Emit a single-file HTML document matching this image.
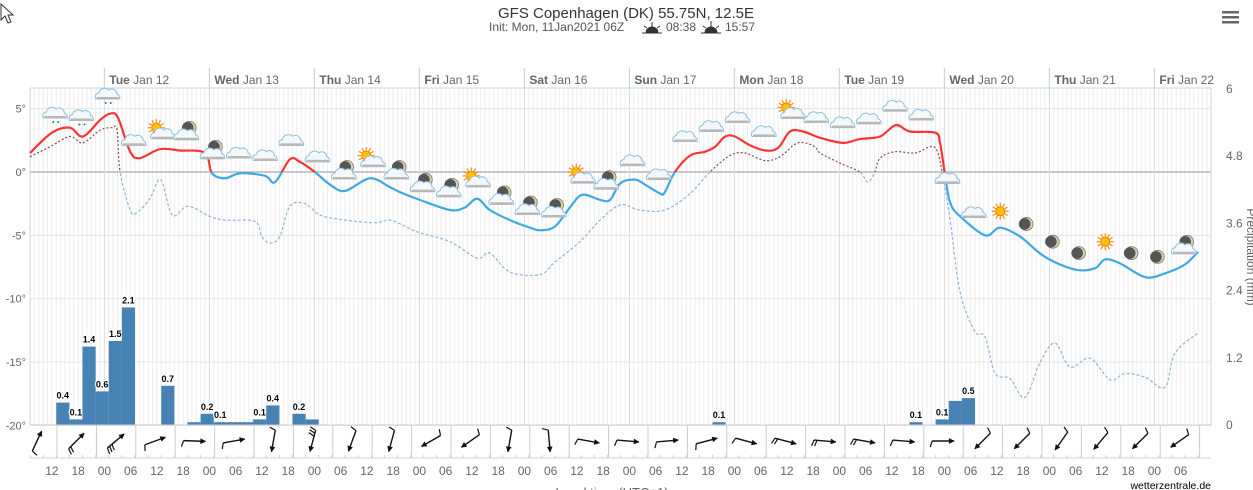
<!DOCTYPE html>
<html><head><meta charset="utf-8"><style>
html,body{margin:0;padding:0;background:#fff;}
svg{display:block;font-family:"Liberation Sans",sans-serif;}
</style></head><body>
<svg id="chart" width="1253" height="490" viewBox="0 0 1253 490" xmlns="http://www.w3.org/2000/svg">
<defs>
<clipPath id="above"><rect x="0" y="0" width="1253" height="172"/></clipPath>
<clipPath id="below"><rect x="0" y="172" width="1253" height="320"/></clipPath>
</defs>
<polygon points="1,4 1,20 5,16 8,23 11,22 8,15 13,15" fill="#fff" stroke="#333" stroke-width="1"/>
<text x="626" y="18" text-anchor="middle" font-size="15" fill="#333">GFS Copenhagen (DK) 55.75N, 12.5E</text>
<g font-size="12" fill="#555">
<text x="489" y="31">Init: Mon, 11Jan2021 06Z</text>
<g stroke="#333" fill="#333"><path d="M646,33 a6,6 0 0 1 12,0z"/><line x1="642" y1="33" x2="662" y2="33"/><line x1="652" y1="22" x2="652" y2="27"/><line x1="644" y1="26" x2="647" y2="28"/><line x1="660" y1="26" x2="657" y2="28"/></g>
<text x="666" y="31">08:38</text>
<g stroke="#333" fill="#333"><path d="M705,33 a6,6 0 0 1 12,0z"/><line x1="701" y1="33" x2="721" y2="33"/><line x1="711" y1="21" x2="711" y2="27"/><line x1="703" y1="26" x2="706" y2="28"/><line x1="719" y1="26" x2="716" y2="28"/></g>
<text x="725" y="31">15:57</text>
</g>
<g fill="#666"><rect x="1222" y="11" width="17" height="2.5"/><rect x="1222" y="16" width="17" height="2.5"/><rect x="1222" y="21" width="17" height="2.5"/></g>
<g id="grid"></g>
<g id="bars"></g>
<g id="lines"></g>
<g id="icons"></g>
<g id="wind"></g>
<g id="axes"></g>
<text x="612" y="497" text-anchor="middle" font-size="13" fill="#666">Local time (UTC+1)</text>
<text x="1211" y="489" text-anchor="end" font-size="10.5" fill="#000">wetterzentrale.de</text>
<text transform="translate(1247,257) rotate(90)" text-anchor="middle" font-size="12" fill="#666">Precipitation (mm)</text>
</svg>
<script>
// ---- data ----
const dayLabels = ["Tue","Wed","Thu","Fri","Sat","Sun","Mon","Tue","Wed","Thu","Fri"];
const dayDates = ["Jan 12","Jan 13","Jan 14","Jan 15","Jan 16","Jan 17","Jan 18","Jan 19","Jan 20","Jan 21","Jan 22"];
const tempTicks = [5,0,-5,-10,-15,-20];
const precipTicks = [6,4.8,3.6,2.4,1.2,0];
const hourLabels = ["12","18","00","06"];
const tempHours = [0,5,9.1,12.1,16,18.3,20.1,22.9,25.1,29.7,34.3,40,41.6,44.6,48,53.7,56,59.4,61.7,65.1,68.6,72,77.7,82.3,84.6,89.1,96,99.4,102.2,105.1,109.7,114.3,116.6,120,123.4,126.2,130.3,132.6,134.9,138.3,140.6,144,145.1,147.4,150.9,154.3,156.6,158.9,161.1,164.6,168,171,173.7,176.7,180.6,185.8,189.7,194.3,197.9,201.1,206.9,208,209.1,210.3,212.6,218.3,221.7,226.3,232,238.9,243.4,245.7,249.1,254.9,259.4,264,267];
const tempValues = [1.5,3.1,3.5,2.8,4.1,4.6,4.3,1.6,1.1,1.8,1.7,1.5,-0.1,-0.5,-0.1,-0.3,-0.8,1.0,0.8,0,-1.0,-1.5,-0.5,-1.2,-1.6,-2.2,-3.0,-2.8,-2.1,-3.0,-3.8,-4.4,-4.6,-4.3,-2.8,-1.8,-2.2,-2.2,-0.9,-0.6,-1.0,-1.7,-1.6,0,1.3,1.6,2.0,2.8,2.8,2.1,1.7,1.9,3.2,3.2,2.7,2.3,2.6,2.8,3.7,3.2,3.1,2.3,-0.1,-2.4,-3.5,-5.0,-4.4,-5.1,-6.7,-7.7,-7.6,-6.9,-7.2,-8.3,-8.0,-7.3,-6.3];
const dewHours = [0,4.6,9.1,12.1,16,18.7,19.9,20.6,22.9,24.5,27.4,29.9,32.5,36.1,41.1,44.6,51.4,53,54.9,57.1,59.4,62.9,66.3,72,78.9,82.3,86.4,89.1,96,102.2,105.1,109.7,116.6,120,125.7,130.3,134.9,139.4,145.1,150.9,155.4,160,163.4,168,171.4,174.9,177.1,179.4,180.6,185.1,189.7,191.5,193.1,194.3,197.7,202.3,205.7,207.3,208.5,210.3,212.6,216,218.3,220.6,224,227.4,230.9,234.3,237.7,242.3,246.9,250.3,254.9,259.4,261.7,267];
const dewValues = [1.2,2.0,2.8,2.3,3.3,3.5,3.3,0,-3.0,-3.2,-2.1,-0.6,-3.4,-2.7,-3.5,-3.8,-3.9,-5.1,-5.6,-5.1,-2.7,-2.5,-3.4,-3.8,-4.0,-3.8,-4.4,-4.8,-5.5,-6.8,-6.4,-7.9,-8.1,-7.1,-5.5,-3.8,-2.6,-3.0,-3.0,-1.7,0,1.3,1.5,0.9,1.2,2.2,2.3,2.0,1.5,0.7,0,-0.8,0,1.1,1.6,1.5,2.0,1.7,0,-3.8,-9.5,-12.6,-13.0,-15.9,-16.3,-17.8,-15.0,-13.5,-15.4,-14.7,-16.4,-15.9,-16.2,-17.0,-14.3,-12.7];
const precipHours = [6,9,12,15,18,21,30,36,39,42,45,48,51,54,60,63,156,201,207,210,213];
const precipValues = [0.4,0.1,1.4,0.6,1.5,2.1,0.7,0.05,0.2,0.05,0.05,0.05,0.1,0.35,0.2,0.1,0.05,0.05,0.1,0.43,0.48];
const precipLabeled = [1,1,1,1,1,1,1,0,1,1,0,0,1,1,1,0,1,1,1,0,1];
const iconTypes = ["rain","rain","rain","cloud","suncloud","mooncloud","mooncloud","cloud","cloud","cloud","cloud","mooncloud","suncloud","mooncloud","mooncloud","mooncloud","suncloud","mooncloud","mooncloud","mooncloud","suncloud","mooncloud","cloud","cloud","cloud","cloud","cloud","cloud","suncloud","cloud","cloud","cloud","cloud","cloud","cloud","cloud","sun","moon","moon","moon","sun","moon","moon","mooncloud"];
const iconLevels = [4.5,4.3,6.0,2.5,3.1,3.1,1.6,1.5,1.3,2.5,1.2,0,0.9,0,-1.0,-1.4,-0.7,-2.0,-2.8,-3.0,-0.4,-0.8,0.9,-0.2,2.8,3.6,4.3,3.2,4.7,4.3,3.9,4.2,5.2,4.5,-0.5,-3.2,-3.1,-4.1,-5.5,-6.4,-5.5,-6.4,-6.7,-5.9];
const windDirs = [25,45,50,70,92,80,190,195,200,195,240,235,190,175,100,95,85,75,105,105,95,100,95,90,225,225,215,220,225,235];
const windFeathers = [1,2,3,1,1,1,1,3,1,1,1,1,1,1,1,1,1,1,1,2,2,2,1,1,1,1,1,1,1,1];

// ---- scales ----
const X0=30, X1=1211, PX_H=4.375;
const xs = h => X0 + h*PX_H;
const yT = t => 172 - t*12.67;
const yP = p => 425 - p*56;
const NS="http://www.w3.org/2000/svg";
function el(tag, attrs, parent){const e=document.createElementNS(NS,tag);for(const k in attrs)e.setAttribute(k,attrs[k]);parent.appendChild(e);return e;}

// ---- grid ----
const grid=document.getElementById('grid');
for(let h=0; xs(h)<=X1; h++){
  const l=el('line',{x1:xs(h),x2:xs(h),y1:88,y2:425,stroke:'#eeeeee','stroke-width':1},grid);
  
  
}
tempTicks.forEach(t=>{
  const l=el('line',{x1:X0,x2:X1,y1:yT(t),y2:yT(t),stroke:t===0?'#aaaaaa':'#e6e6e6','stroke-width':t===0?1.2:1},grid);
  
  
});
// day header row and day lines
el('line',{x1:X0,x2:X1,y1:88,y2:88,stroke:'#c8d4e2'},grid);
el('line',{x1:X0,x2:X0,y1:88,y2:425,stroke:'#c8d4e2'},grid);
el('line',{x1:X1,x2:X1,y1:88,y2:425,stroke:'#c8d4e2'},grid);
dayLabels.forEach((d,i)=>{
  const x=xs(17+24*i);
  const l=el('line',{x1:x,x2:x,y1:68,y2:425,stroke:'#dcdcdc'},grid);
  
  
  el('line',{x1:x,x2:x,y1:68,y2:88,stroke:'#c8d4e2'},grid);
  const t=el('text',{x:x+5,y:84,'font-size':12,fill:'#666'},grid);
  
  
  const b=el('tspan',{'font-weight':'bold'},t); b.textContent=d;
  const s=el('tspan',{},t); s.textContent=' '+dayDates[i];
});

// ---- precipitation bars ----
const bars=document.getElementById('bars');
precipHours.forEach((h,i)=>{
  const v=precipValues[i];
  const r=el('rect',{x:xs(h),y:yP(v),width:3*PX_H,height:425-yP(v),fill:'#4682b4'},bars);
  
  
  if(precipLabeled[i]){
    const t=el('text',{x:xs(h)+1.5*PX_H,y:yP(v)-4,'text-anchor':'middle','font-size':9,'font-weight':'bold',fill:'#000',stroke:'#fff','stroke-width':2.5,'paint-order':'stroke'},bars);
    
    
    t.textContent=(Math.round(v*10)/10).toFixed(1);
  }
});

// ---- lines ----
function smoothPath(hs,vs){
  const p=hs.map((h,i)=>[xs(h),yT(vs[i])]);
  let d='M'+p[0][0]+','+p[0][1];
  for(let i=0;i<p.length-1;i++){
    const a=p[Math.max(0,i-1)],b=p[i],c=p[i+1],e=p[Math.min(p.length-1,i+2)];
    const c1=[b[0]+(c[0]-a[0])/6,b[1]+(c[1]-a[1])/6];
    const c2=[c[0]-(e[0]-b[0])/6,c[1]-(e[1]-b[1])/6];
    d+=' C'+c1[0].toFixed(1)+','+c1[1].toFixed(1)+' '+c2[0].toFixed(1)+','+c2[1].toFixed(1)+' '+c[0].toFixed(1)+','+c[1].toFixed(1);
  }
  return d;
}
const lines=document.getElementById('lines');
const dd=smoothPath(dewHours,dewValues);
const dewA=el('path',{d:dd,fill:'none',stroke:'#8b4a4a','stroke-width':1.2,'stroke-dasharray':'2,2','clip-path':'url(#above)'},lines);


const dewB=el('path',{d:dd,fill:'none',stroke:'#8fb4dc','stroke-width':1.2,'stroke-dasharray':'3,2','clip-path':'url(#below)'},lines);


const td=smoothPath(tempHours,tempValues);
const tA=el('path',{d:td,fill:'none',stroke:'#ff3333','stroke-width':2.2,'clip-path':'url(#above)'},lines);


const tB=el('path',{d:td,fill:'none',stroke:'#3ea8e6','stroke-width':2.2,'clip-path':'url(#below)'},lines);



// ---- weather icons ----
const icons=document.getElementById('icons');
function cloud(g,x,y){
  el('path',{d:`M${x-12},${y+5} a4,4 0 0 1 3,-6 a6,6 0 0 1 10,-3 a5,5 0 0 1 8,4 a4,4 0 0 1 3,5 z`,fill:'#f4f8fb',stroke:'#8fc0e0','stroke-width':1},g);
  el('rect',{x:x-11,y:y+3,width:22,height:2.5,fill:'#b8b8b8'},g);
}
function sun(g,x,y){
  for(let a=0;a<360;a+=30){const r=a*Math.PI/180;el('line',{x1:x+Math.cos(r)*5,y1:y+Math.sin(r)*5,x2:x+Math.cos(r)*8.5,y2:y+Math.sin(r)*8.5,stroke:'#ff8c1a','stroke-width':1.2},g);}
  el('circle',{cx:x,cy:y,r:4.5,fill:'#ffc400',stroke:'#ff7a00','stroke-width':1},g);
}
function moon(g,x,y){
  el('circle',{cx:x,cy:y,r:6.5,fill:'#dcd4a8',stroke:'#777','stroke-width':0.8},g);
  el('circle',{cx:x-1.8,cy:y,r:5.8,fill:'#555'},g);
}
iconTypes.forEach((tp,i)=>{
  const x=xs(6+6*i)-1, y=yT(iconLevels[i]);
  const g=el('g',{},icons);
  
  
  if(tp==='cloud'){cloud(g,x,y);}
  else if(tp==='rain'){cloud(g,x,y-2);el('circle',{cx:x-2,cy:y+7,r:1,fill:'#2a6aa8'},g);el('circle',{cx:x+3,cy:y+7,r:1,fill:'#2a6aa8'},g);}
  else if(tp==='suncloud'){sun(g,x-4,y-5);cloud(g,x+3,y+1);}
  else if(tp==='mooncloud'){moon(g,x+3,y-5);cloud(g,x,y+2);}
  else if(tp==='sun'){sun(g,x,y);}
  else if(tp==='moon'){moon(g,x,y);}
});

// ---- wind barbs ----
const wind=document.getElementById('wind');
for(let k=0;k<30;k++){
  const lx=57+39.4*k;
  if(lx<X1){
    const s=el('line',{x1:lx,x2:lx,y1:425,y2:458,stroke:'#cccccc'},wind);
    
    
  }
}
windDirs.forEach((d,i)=>{
  const cx=37+39.4*i, cy=441;
  const r=d*Math.PI/180, ux=Math.sin(r), uy=-Math.cos(r);
  const hx=cx+ux*11, hy=cy+uy*11, tx=cx-ux*11, ty=cy-uy*11;
  const g=el('g',{stroke:'#111','stroke-width':1.4,fill:'#111'},wind);
  
  
  el('line',{x1:tx,y1:ty,x2:hx,y2:hy},g);
  const px=-uy, py=ux;
  el('polygon',{points:`${hx},${hy} ${hx-ux*5+px*2.5},${hy-uy*5+py*2.5} ${hx-ux*5-px*2.5},${hy-uy*5-py*2.5}`,'stroke-width':0.5},g);
  for(let f=0;f<windFeathers[i];f++){
    const bx=tx+ux*f*3, by=ty+uy*f*3;
    el('line',{x1:bx,y1:by,x2:bx+px*6-ux*2,y2:by+py*6-uy*2,'stroke-width':1.2},g);
  }
});

// ---- axes ----
const axes=document.getElementById('axes');
el('line',{x1:X0,x2:X1,y1:425,y2:425,stroke:'#cccccc'},axes);
el('line',{x1:X0,x2:X1,y1:458,y2:458,stroke:'#c8d4e2'},axes);
for(let h=0;xs(h)<=X1;h+=3){el('line',{x1:xs(h),x2:xs(h),y1:455,y2:458,stroke:'#c8d4e2'},axes);}
for(let j=0;xs(5+6*j)<=X1-10;j++){
  const t=el('text',{x:xs(5+6*j),y:475,'text-anchor':'middle','font-size':12,fill:'#666'},axes);
  
  
  t.textContent=hourLabels[j%4];
}
tempTicks.forEach(v=>{
  const t=el('text',{x:26,y:yT(v)+4,'text-anchor':'end','font-size':11,fill:'#666'},axes);
  
  
  t.textContent=v+'°';
});
precipTicks.forEach(v=>{
  const t=el('text',{x:1226,y:yP(v)+4,'font-size':12,fill:'#666'},axes);
  
  
  t.textContent=String(v);
});
</script>
</body></html>
